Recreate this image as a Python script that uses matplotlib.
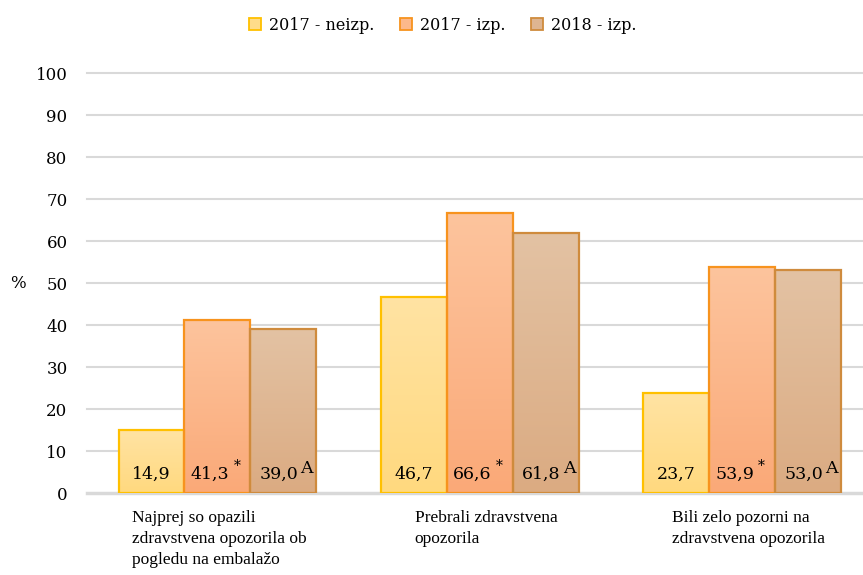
import matplotlib
matplotlib.use("Agg")
import matplotlib.pyplot as plt
import numpy as np
from matplotlib.colors import LinearSegmentedColormap
from matplotlib.patches import Rectangle
from matplotlib.lines import Line2D

categories = ["Najprej so opazili\nzdravstvena opozorila ob\npogledu na embalažo",
              "Prebrali zdravstvena\nopozorila",
              "Bili zelo pozorni na\nzdravstvena opozorila"]
series_names = ["2017 - neizp.", "2017 - izp.", "2018 - izp."]
values_2017_neizp = [14.9, 46.7, 23.7]
values_2017_izp = [41.3, 66.6, 53.9]
values_2018_izp = [39.0, 61.8, 53.0]
marks_2017_izp = ["*", "*", "*"]
marks_2018_izp = ["A", "A", "A"]
yticks = [0, 10, 20, 30, 40, 50, 60, 70, 80, 90, 100]

series = [values_2017_neizp, values_2017_izp, values_2018_izp]
marks = [None, marks_2017_izp, marks_2018_izp]
top_colors = ["#FFE3A3", "#FDC49D", "#E3C2A3"]
bot_colors = ["#FFD97F", "#FAA978", "#DBAB82"]
edge_colors = ["#FFC000", "#F7931E", "#CF8B3D"]
legend_face = ["#FFDC8A", "#FCB88A", "#DEB591"]

serif = ["DejaVu Serif"]
label_font = ["Liberation Serif"]

fig = plt.figure(figsize=(8.63, 5.75), dpi=100)
ax = fig.add_axes([87 / 863, 82 / 575, 1 - 87 / 863, 420 / 575])

x = np.arange(len(categories))
width = 0.251
offsets = [-width, 0, width]
ax.set_xlim(-0.497, 2.46)
ax.set_ylim(0, 100)

for yt in yticks[1:]:
    ax.axhline(yt, color="#D9D9D9", lw=1.5, zorder=0, clip_on=False)
ax.axhline(0, color="#D9D9D9", lw=2.5, zorder=1, clip_on=False)

for si, vals in enumerate(series):
    cmap = LinearSegmentedColormap.from_list("g%d" % si, [bot_colors[si], top_colors[si]])
    for ci, v in enumerate(vals):
        x0 = x[ci] + offsets[si] - width / 2
        rect = Rectangle((x0, 0), width, v, facecolor="none", edgecolor=edge_colors[si],
                         lw=1.6, zorder=3)
        ax.add_patch(rect)
        grad = np.linspace(0, 1, 100).reshape(-1, 1)
        im = ax.imshow(grad, cmap=cmap, origin="lower", aspect="auto",
                       extent=(x0, x0 + width, 0, v), zorder=2)
        im.set_clip_path(rect)
        txt = f"{v:.1f}".replace(".", ",")
        xc = x[ci] + offsets[si]
        if marks[si] is None:
            ax.text(xc, 3.4, txt, ha="center", va="baseline", fontsize=12.5,
                    family=serif, color="#000000", zorder=5)
        else:
            dx = 12 if si == 1 else 15
            ax.annotate(txt, (xc, 3.4), xytext=(dx * 0.72, 0), textcoords="offset points",
                        ha="right", va="baseline", fontsize=12.5, family=serif, zorder=5)
            if si == 1:
                ax.annotate(marks[si][ci], (xc, 3.4), xytext=((dx + 4) * 0.72, 6),
                            textcoords="offset points", ha="left", va="baseline",
                            fontsize=10, family=serif, zorder=5)
            else:
                ax.annotate(marks[si][ci], (xc, 3.4), xytext=((dx + 2) * 0.72, 4),
                            textcoords="offset points", ha="left", va="baseline",
                            fontsize=12.5, family=serif, zorder=5)

for s in ax.spines.values():
    s.set_visible(False)
ax.set_yticks(yticks)
ax.set_yticklabels([str(t) for t in yticks], family=serif, fontsize=12)
ax.tick_params(axis="y", length=0, pad=14)
ax.set_xticks([])

fig.text(10 / 863, 1 - 284 / 575, "%", ha="left", va="center",
         family=serif, fontsize=12)

label_dx = [-85, -65, -70]
for ci, cat in enumerate(categories):
    ax.annotate(cat, (x[ci], 0), xytext=(label_dx[ci] * 0.72, -12),
                textcoords="offset points", ha="left", va="top",
                fontsize=12.5, family=label_font, linespacing=1.45, annotation_clip=False)

handles = [Line2D([0], [0], marker="s", linestyle="none", markersize=8,
                  markerfacecolor=legend_face[i], markeredgecolor=edge_colors[i],
                  markeredgewidth=1.3) for i in range(3)]
fig.legend(handles, series_names, loc="center", bbox_to_anchor=(0.512, 0.956), ncol=3,
           frameon=False, prop={"family": serif, "size": 11.5}, handletextpad=0.35,
           columnspacing=1.5, handlelength=1.0)

fig.savefig("out.png", dpi=100)
